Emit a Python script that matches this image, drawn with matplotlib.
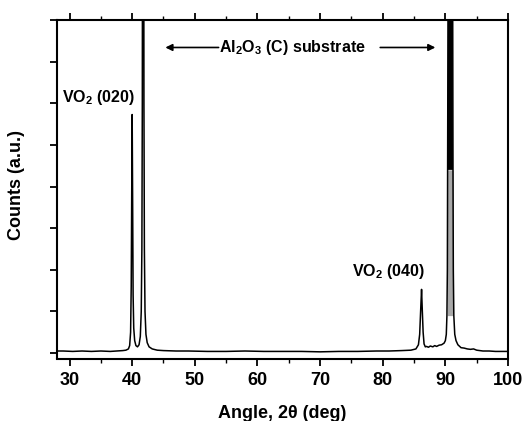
import matplotlib
matplotlib.use("Agg")
import matplotlib.pyplot as plt
import numpy as np
from matplotlib.ticker import MultipleLocator, NullFormatter

plt.rcParams['font.family'] = ['Liberation Sans', 'DejaVu Sans']
plt.rcParams['font.weight'] = 'bold'
plt.rcParams['mathtext.fontset'] = 'custom'
plt.rcParams['mathtext.rm'] = 'Liberation Sans:bold'
plt.rcParams['mathtext.bf'] = 'Liberation Sans:bold'
plt.rcParams['mathtext.it'] = 'Liberation Sans:bold'

# XRD pattern (angle in deg, counts in tick units)
angle = [28.0, 29.0, 30.5, 32.0, 33.5, 35.0, 36.5, 37.5, 38.5, 39.0, 39.4, 39.6,
         39.75, 39.85, 39.92, 40.0, 40.08, 40.15, 40.25, 40.4, 40.6, 40.85,
         41.1, 41.3, 41.45, 41.55, 41.62, 41.68, 41.75, 41.82, 41.88, 41.95,
         42.05, 42.2, 42.4, 42.7, 43.2, 44.0, 45.0, 47.0, 49.0, 52.0, 55.0,
         58.0, 61.0, 64.0, 67.0, 70.0, 73.0, 76.0, 79.0, 81.0, 83.0, 84.5,
         85.3, 85.7, 85.9, 86.05, 86.2, 86.3, 86.45, 86.6, 86.8, 87.0, 87.3,
         87.6, 88.0, 88.3, 88.6, 89.0, 89.4, 89.8, 90.0, 90.15, 90.25, 90.32,
         90.36, 90.45, 90.8, 91.15, 91.22, 91.27, 91.35, 91.5, 91.7,
         92.0, 92.5, 93.0, 93.5, 94.0, 94.5, 95.0, 96.0, 97.0, 98.0,
         99.0, 100.0]
counts = [0.05, 0.05, 0.04, 0.05, 0.04, 0.05, 0.04, 0.05, 0.06, 0.07, 0.10, 0.18,
          0.5, 1.6, 3.6, 5.73, 3.5, 1.4, 0.6, 0.3, 0.18, 0.15,
          0.2, 0.4, 1.0, 2.5, 6.0, 15.0, 40.0, 15.0, 6.0, 2.5,
          1.0, 0.45, 0.25, 0.15, 0.1, 0.07, 0.06, 0.05, 0.05, 0.04, 0.04,
          0.05, 0.04, 0.04, 0.04, 0.03, 0.04, 0.04, 0.05, 0.05, 0.06, 0.07,
          0.1, 0.2, 0.45, 1.0, 1.53, 1.1, 0.5, 0.22, 0.15, 0.16, 0.14,
          0.17, 0.15, 0.18, 0.16, 0.19, 0.2, 0.24, 0.3, 0.45, 0.9, 2.0,
          4.4, 10.0, 40.0, 10.0, 4.4, 2.0, 0.9, 0.45, 0.3,
          0.2, 0.13, 0.12, 0.1, 0.09, 0.1, 0.07, 0.05, 0.05, 0.04,
          0.04, 0.04]

x_ticks = [30, 40, 50, 60, 70, 80, 90, 100]
y_ticks = [0, 1, 2, 3, 4, 5, 6, 7, 8]

# region of the saturated Al2O3 peak near 91 deg and its shading level
sat_lo, sat_hi = 90.3, 91.3
sat_level = 4.4

fig = plt.figure(figsize=(5.25, 4.21), dpi=100)
ax = fig.add_axes([57/525, 1-358.5/421, 451/525, (358.5-20)/421])

a = np.array(angle)
c = np.array(counts)
m = (a >= sat_lo) & (a <= sat_hi)
ax.fill_between(a[m], np.minimum(c[m], sat_level), 0.9, where=c[m] >= 0.9,
                color='#a8a8a8', lw=0, interpolate=True)
ax.fill_between(a[m], np.maximum(c[m], sat_level), sat_level, where=c[m] >= sat_level,
                color='black', lw=0, interpolate=True)
ax.plot(angle, counts, color='black', lw=1.1)

ax.set_xlim(28, 100)
ax.set_ylim(-0.13, 8.0)
ax.set_xticks(x_ticks)
ax.xaxis.set_minor_locator(MultipleLocator(5))
ax.set_yticks(y_ticks)
ax.yaxis.set_major_formatter(NullFormatter())

for s in ax.spines.values():
    s.set_linewidth(1.5)

ax.tick_params(axis='x', which='major', direction='out', length=5, width=1.3,
               top=True, labeltop=False, labelsize=13, pad=5)
ax.tick_params(axis='x', which='minor', direction='out', length=3, width=1.0, top=True)
ax.tick_params(axis='y', which='major', direction='out', length=5, width=1.3, right=False)
for lab in ax.get_xticklabels():
    lab.set_fontweight('bold')

ax.set_xlabel(r'Angle, 2θ (deg)', fontsize=13, fontweight='bold')
ax.set_ylabel('Counts (a.u.)', fontsize=13, fontweight='bold')
ax.xaxis.set_label_coords(0.5, (358.5-413)/338.5)
ax.xaxis.label.set_va('center')
ax.yaxis.set_label_coords((17-57)/451, (358.5-185)/338.5)
ax.yaxis.label.set_va('center')

ax.text(34.6, 6.14, r'VO$_\mathrm{2}$ (020)', ha='center', va='center', fontsize=11.5, fontweight='bold')
ax.text(80.9, 1.97, r'VO$_\mathrm{2}$ (040)', ha='center', va='center', fontsize=11.5, fontweight='bold')
ax.text(65.5, 7.34, r'Al$_\mathrm{2}$O$_\mathrm{3}$ (C) substrate', ha='center', va='center',
        fontsize=11.5, fontweight='bold')
ax.annotate('', xy=(45.3, 7.34), xytext=(53.8, 7.34),
            arrowprops=dict(arrowstyle='-|>', color='black', lw=1.2, mutation_scale=10,
                            shrinkA=0, shrinkB=0))
ax.annotate('', xy=(88.4, 7.34), xytext=(79.6, 7.34),
            arrowprops=dict(arrowstyle='-|>', color='black', lw=1.2, mutation_scale=10,
                            shrinkA=0, shrinkB=0))

fig.savefig('out.png', dpi=100)
